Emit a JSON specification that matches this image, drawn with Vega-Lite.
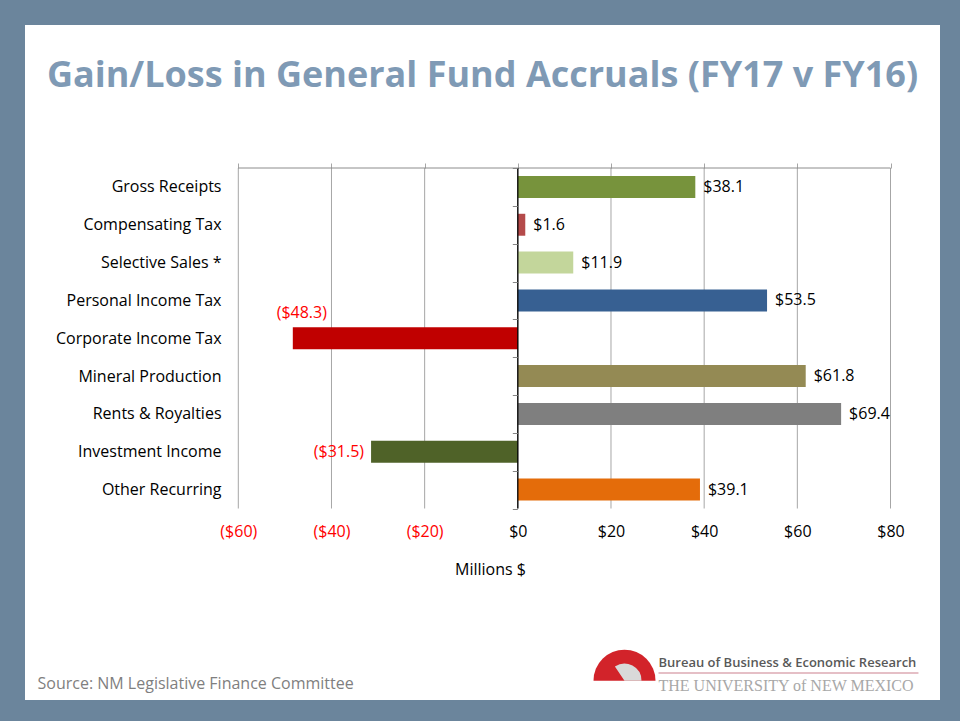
{
  "$schema": "https://vega.github.io/schema/vega-lite/v6.json",
  "width": 915,
  "height": 675,
  "autosize": {"type": "none"},
  "padding": {"left": 25, "top": 25, "right": 20, "bottom": 21},
  "background": "#6b859c",
  "config": {"view": {"fill": "#ffffff", "stroke": null}, "font": "Open Sans"},
  "title": {
    "text": "Gain/Loss in General Fund Accruals (FY17 v FY16)",
    "font": "Open Sans",
    "fontSize": 36,
    "fontWeight": "bold",
    "color": "#7f9ab5",
    "anchor": "middle",
    "frame": "group",
    "baseline": "alphabetic",
    "offset": -106
  },
  "datasets": {
    "accruals": [
      {"category": "Gross Receipts", "value": 38.1},
      {"category": "Compensating Tax", "value": 1.6},
      {"category": "Selective Sales *", "value": 11.9},
      {"category": "Personal Income Tax", "value": 53.5},
      {"category": "Corporate Income Tax", "value": -48.3},
      {"category": "Mineral Production", "value": 61.8},
      {"category": "Rents & Royalties", "value": 69.4},
      {"category": "Investment Income", "value": -31.5},
      {"category": "Other Recurring", "value": 39.1}
    ],
    "ticks": [
      {"tick": -60}, {"tick": -40}, {"tick": -20}, {"tick": 0},
      {"tick": 20}, {"tick": 40}, {"tick": 60}, {"tick": 80}
    ],
    "logo": [{"name": "UNM BBER"}]
  },
  "layer": [
    {
      "data": {"name": "ticks"},
      "mark": {"type": "rule", "color": "#a6a6a6", "strokeWidth": 1},
      "encoding": {
        "x": {
          "field": "tick",
          "type": "quantitative",
          "axis": {
            "orient": "top",
            "offset": -143,
            "values": [-60, -40, -20, 0, 20, 40, 60, 80],
            "domain": false,
            "grid": false,
            "labels": false,
            "ticks": true,
            "tickSize": 5,
            "tickColor": "#a6a6a6",
            "title": "Bureau of Business & Economic Research",
            "titleX": 633,
            "titleY": 498,
            "titleAlign": "left",
            "titleAnchor": null,
            "titleBaseline": "alphabetic",
            "titleFont": "Open Sans",
            "titleFontSize": 13,
            "titleFontWeight": 600,
            "titleColor": "#595959"
          }
        },
        "y": {
          "datum": "Gross Receipts",
          "bandPosition": 0,
          "axis": {
            "orient": "right",
            "domain": false,
            "ticks": false,
            "labels": false,
            "grid": false,
            "title": "THE UNIVERSITY of NEW MEXICO",
            "titleAngle": 0,
            "titleX": -282,
            "titleY": 665,
            "titleAlign": "left",
            "titleBaseline": "alphabetic",
            "titleFont": "Liberation Serif",
            "titleFontSize": 16,
            "titleFontWeight": "normal",
            "titleColor": "#a8a8a8"
          }
        },
        "y2": {"datum": "Other Recurring", "bandPosition": 1}
      }
    },
    {
      "data": {"name": "ticks"},
      "mark": {"type": "rule", "color": "#8c8c8c", "strokeWidth": 1},
      "encoding": {
        "x": {"aggregate": "min", "field": "tick", "type": "quantitative", "axis": null},
        "x2": {"aggregate": "max", "field": "tick"},
        "y": {"datum": "Gross Receipts", "bandPosition": 0, "axis": null}
      }
    },
    {
      "data": {"name": "accruals"},
      "mark": {"type": "bar", "height": {"band": 0.58}},
      "encoding": {
        "y": {
          "field": "category",
          "type": "nominal",
          "scale": {
            "type": "band",
            "domain": ["Gross Receipts", "Compensating Tax", "Selective Sales *", "Personal Income Tax", "Corporate Income Tax", "Mineral Production", "Rents & Royalties", "Investment Income", "Other Recurring"],
            "range": [143, 483.5],
            "paddingInner": 0,
            "paddingOuter": 0
          },
          "axis": {
            "orient": "left",
            "offset": -492.3,
            "domain": false,
            "grid": false,
            "ticks": true,
            "tickBand": "extent",
            "tickSize": 5,
            "tickColor": "#868686",
            "labels": true,
            "labelPadding": 291.3,
            "labelFont": "Open Sans",
            "labelFontSize": 16,
            "labelColor": "#000000",
            "labelAlign": "right",
            "zindex": 1,
            "title": "Source: NM Legislative Finance Committee",
            "titleAngle": 0,
            "titleX": -480.3,
            "titleY": 663,
            "titleAlign": "left",
            "titleBaseline": "alphabetic",
            "titleFont": "Open Sans",
            "titleFontSize": 16,
            "titleFontWeight": "normal",
            "titleColor": "#7f7f7f"
          }
        },
        "x": {
          "field": "value",
          "type": "quantitative",
          "scale": {"domain": [-60, 80], "range": [213.3, 865.5], "nice": false, "zero": false},
          "axis": {
            "orient": "bottom",
            "offset": -191.5,
            "values": [-60, -40, -20, 0, 20, 40, 60, 80],
            "format": "($.0f",
            "domain": false,
            "grid": false,
            "ticks": false,
            "labelFlush": false,
            "labelOverlap": false,
            "labelPadding": 15,
            "labelFont": "Open Sans",
            "labelFontSize": 16,
            "labelColor": {"condition": {"test": "datum.value < 0", "value": "#ff0000"}, "value": "#000000"},
            "title": "Millions $",
            "titleX": 465,
            "titleY": 65.5,
            "titleAlign": "center",
            "titleBaseline": "alphabetic",
            "titleFont": "Open Sans",
            "titleFontSize": 16,
            "titleFontWeight": "normal",
            "titleColor": "#000000"
          }
        },
        "color": {
          "field": "category",
          "type": "nominal",
          "scale": {
            "domain": ["Gross Receipts", "Compensating Tax", "Selective Sales *", "Personal Income Tax", "Corporate Income Tax", "Mineral Production", "Rents & Royalties", "Investment Income", "Other Recurring"],
            "range": ["#77933c", "#b44a4a", "#c3d69b", "#376092", "#c00000", "#948a54", "#7f7f7f", "#4f6228", "#e46c0a"]
          },
          "legend": null
        }
      }
    },
    {
      "data": {"name": "ticks"},
      "transform": [{"filter": "datum.tick == 0"}],
      "mark": {"type": "rule", "color": "#000000", "strokeWidth": 1.3},
      "encoding": {
        "x": {"field": "tick", "type": "quantitative", "axis": null},
        "y": {"datum": "Gross Receipts", "bandPosition": 0, "axis": null},
        "y2": {"datum": "Other Recurring", "bandPosition": 1}
      }
    },
    {
      "data": {"name": "accruals"},
      "transform": [{"filter": "datum.value >= 0"}],
      "mark": {"type": "text", "align": "left", "baseline": "middle", "dx": 8, "font": "Open Sans", "fontSize": 16, "color": "#000000"},
      "encoding": {
        "x": {"field": "value", "type": "quantitative", "axis": null},
        "y": {"field": "category", "type": "nominal", "axis": null},
        "text": {"field": "value", "type": "quantitative", "format": "($.1f"}
      }
    },
    {
      "data": {"name": "accruals"},
      "transform": [{"filter": "datum.value < 0 && datum.category != 'Corporate Income Tax'"}],
      "mark": {"type": "text", "align": "right", "baseline": "middle", "dx": -7, "font": "Open Sans", "fontSize": 16, "color": "#ff0000"},
      "encoding": {
        "x": {"field": "value", "type": "quantitative", "axis": null},
        "y": {"field": "category", "type": "nominal", "axis": null},
        "text": {"field": "value", "type": "quantitative", "format": "($.1f"}
      }
    },
    {
      "data": {"name": "accruals"},
      "transform": [{"filter": "datum.category == 'Corporate Income Tax'"}],
      "mark": {"type": "text", "align": "center", "baseline": "middle", "dx": 9, "dy": -25.5, "font": "Open Sans", "fontSize": 16, "color": "#ff0000"},
      "encoding": {
        "x": {"field": "value", "type": "quantitative", "axis": null},
        "y": {"field": "category", "type": "nominal", "axis": null},
        "text": {"field": "value", "type": "quantitative", "format": "($.1f"}
      }
    },
    {
      "data": {"name": "logo"},
      "mark": {"type": "rule", "color": "#dcaab3", "strokeWidth": 1.5},
      "encoding": {
        "x": {"datum": 30.2, "type": "quantitative", "axis": null},
        "x2": {"datum": 86.0},
        "y": {"datum": "Other Recurring", "bandPosition": 5.35, "axis": null}
      }
    },
    {
      "data": {"name": "logo"},
      "mark": {"type": "arc", "theta": -1.5708, "theta2": 1.5708, "radius": 31, "color": "#d2232a"},
      "encoding": {
        "x": {"datum": 22.9, "type": "quantitative", "axis": null},
        "y": {"datum": "Other Recurring", "bandPosition": 5.55, "axis": null}
      }
    },
    {
      "data": {"name": "logo"},
      "mark": {"type": "arc", "theta": -0.6, "theta2": 1.5708, "radius": 17, "color": "#d9d9d9"},
      "encoding": {
        "x": {"datum": 22.9, "type": "quantitative", "axis": null},
        "y": {"datum": "Other Recurring", "bandPosition": 5.55, "axis": null}
      }
    }
  ],
  "resolve": {"axis": {"x": "independent", "y": "independent"}}
}
